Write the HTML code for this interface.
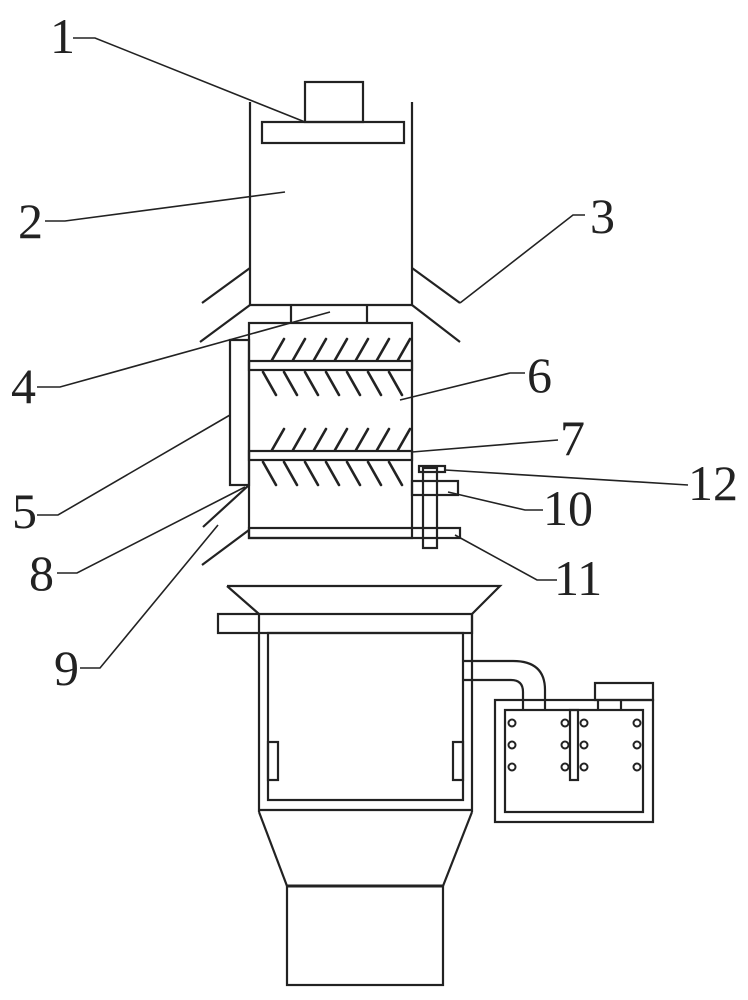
<!DOCTYPE html>
<html><head><meta charset="utf-8"><style>
html,body{margin:0;padding:0;background:#fff}
svg{display:block}
text{font-family:"Liberation Serif",serif;font-size:50px;fill:#222}
</style></head><body>
<svg width="748" height="1000" viewBox="0 0 748 1000" xmlns="http://www.w3.org/2000/svg">
<g fill="none" stroke="#222" stroke-width="2.2">
<!-- top housing -->
<line x1="250" y1="102" x2="250" y2="305"/>
<line x1="412" y1="102" x2="412" y2="305"/>
<line x1="250" y1="305" x2="412" y2="305"/>
<rect x="305" y="82" width="58" height="40"/>
<rect x="262" y="122" width="142" height="21"/>
<line x1="250" y1="268" x2="202" y2="303"/>
<line x1="412" y1="268" x2="460" y2="303"/>
<line x1="250" y1="305" x2="200" y2="342"/>
<line x1="412" y1="305" x2="460" y2="342"/>
<line x1="291" y1="305" x2="291" y2="323"/>
<line x1="367" y1="305" x2="367" y2="323"/>
<!-- mixing box -->
<rect x="249" y="323" width="163" height="215"/>
<rect x="249" y="361" width="163" height="9"/>
<rect x="249" y="451" width="163" height="9"/>
<rect x="249" y="528" width="211" height="10"/>
<rect x="230" y="340" width="19" height="145"/>
<line x1="249" y1="485" x2="203" y2="527"/>
<line x1="249" y1="530" x2="202" y2="565"/>
<!-- rod 10/11/12 -->
<rect x="423" y="468" width="14" height="80"/>
<rect x="419" y="466" width="26" height="6"/>
<rect x="412" y="481" width="46" height="14"/>
<!-- lower machine -->
<polyline points="227,586 500,586 472,614"/>
<line x1="227" y1="586" x2="259" y2="614"/>
<rect x="218" y="614" width="254" height="19"/>
<line x1="259" y1="614" x2="259" y2="812"/>
<line x1="472" y1="614" x2="472" y2="812"/>
<rect x="268" y="633" width="195" height="167"/>
<rect x="268" y="742" width="10" height="38"/>
<rect x="453" y="742" width="10" height="38"/>
<line x1="259" y1="810" x2="472" y2="810"/>
<line x1="259" y1="812" x2="287" y2="886"/>
<line x1="472" y1="812" x2="443" y2="886"/>
<rect x="287" y="886" width="156" height="99"/>
<line x1="287" y1="886" x2="443" y2="886" stroke-width="3"/>
<!-- pipe -->
<path d="M463 661 H513 Q545 661 545 690 V710"/>
<path d="M463 680 H511 Q523 680 523 692 V710"/>
<!-- tank -->
<rect x="495" y="700" width="158" height="122"/>
<rect x="505" y="710" width="138" height="102"/>
<rect x="595" y="683" width="58" height="17"/>
<line x1="598" y1="700" x2="598" y2="710"/>
<line x1="621" y1="700" x2="621" y2="710"/>
<rect x="570" y="710" width="8" height="70"/>
<!-- leaders -->
<polyline points="73,38 95,38 305,122" stroke-width="1.6"/>
<polyline points="45,221 65,221 285,192" stroke-width="1.6"/>
<polyline points="585,215 573,215 460,303" stroke-width="1.6"/>
<polyline points="37,387 60,387 330,312" stroke-width="1.6"/>
<polyline points="37,515 58,515 230,415" stroke-width="1.6"/>
<polyline points="57,573 77,573 245,487" stroke-width="1.6"/>
<polyline points="80,668 100,668 218,525" stroke-width="1.6"/>
<polyline points="525,373 510,373 400,400" stroke-width="1.6"/>
<line x1="558" y1="440" x2="412" y2="452" stroke-width="1.6"/>
<line x1="688" y1="485" x2="445" y2="470" stroke-width="1.6"/>
<polyline points="543,510 525,510 448,492" stroke-width="1.6"/>
<polyline points="557,580 537,580 455,535" stroke-width="1.6"/>
</g>
<!-- blades -->
<g stroke="#222" stroke-width="2.6" stroke-linecap="round">
<g id="row">
<line x1="272" y1="360" x2="284" y2="339"/><line x1="293" y1="360" x2="305" y2="339"/><line x1="314" y1="360" x2="326" y2="339"/><line x1="335" y1="360" x2="347" y2="339"/><line x1="356" y1="360" x2="368" y2="339"/><line x1="377" y1="360" x2="389" y2="339"/><line x1="398" y1="360" x2="410" y2="339"/>
<line x1="263" y1="372" x2="276" y2="395"/><line x1="284" y1="372" x2="297" y2="395"/><line x1="305" y1="372" x2="318" y2="395"/><line x1="326" y1="372" x2="339" y2="395"/><line x1="347" y1="372" x2="360" y2="395"/><line x1="368" y1="372" x2="381" y2="395"/><line x1="389" y1="372" x2="402" y2="395"/>
</g>
<use href="#row" transform="translate(0,90)"/>
</g>
<!-- nozzles -->
<g fill="none" stroke="#222" stroke-width="2">
<g id="nz"><circle cx="512" cy="723" r="3.5"/><circle cx="512" cy="745" r="3.5"/><circle cx="512" cy="767" r="3.5"/></g>
<use href="#nz" transform="translate(53,0)"/>
<use href="#nz" transform="translate(72,0)"/>
<use href="#nz" transform="translate(125,0)"/>
</g>
<text x="50" y="53">1</text>
<text x="18" y="238">2</text>
<text x="590" y="233">3</text>
<text x="11" y="403">4</text>
<text x="12" y="528">5</text>
<text x="527" y="392">6</text>
<text x="560" y="455">7</text>
<text x="29" y="590">8</text>
<text x="54" y="685">9</text>
<text x="543" y="525">10</text>
<text x="554" y="595">11</text>
<text x="688" y="500">12</text>
</svg>
</body></html>
